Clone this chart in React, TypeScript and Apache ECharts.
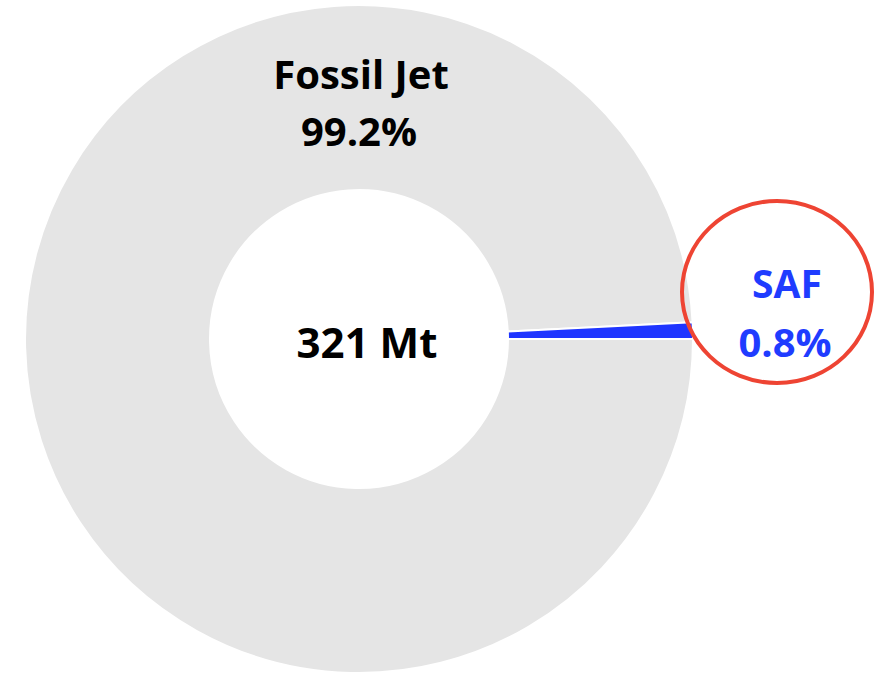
import React, { useEffect, useRef } from "react";
import * as echarts from "echarts";

const categories = ["Fossil Jet", "SAF"];
const shares = [99.2, 0.8];
const totalLabel = "321 Mt";
const colors = ["#e5e5e5", "#1f35ff"];

export default function App() {
  const ref = useRef<HTMLDivElement>(null);
  useEffect(() => {
    if (!ref.current) return;
    const chart = echarts.init(ref.current, null, { renderer: "svg" });
    const font = "'Open Sans', sans-serif";
    const txt = (x: number, y: number, text: string, size: number, fill: string) => ({
      type: "text",
      x,
      y,
      z: 100,
      style: {
        text,
        fill,
        font: `bold ${size}px ${font}`,
        align: "center",
        verticalAlign: "middle",
      },
    });
    chart.setOption({
      animation: false,
      backgroundColor: "#ffffff",
      series: [
        {
          type: "pie",
          center: [359, 339],
          radius: [149, 334],
          startAngle: 0,
          clockwise: true,
          silent: true,
          label: { show: false },
          labelLine: { show: false },
          itemStyle: { borderColor: "#ffffff", borderWidth: 2 },
          data: categories.map((c, i) => ({
            name: c,
            value: shares[i],
            itemStyle: { color: colors[i] },
          })),
        },
      ],
      graphic: [
        txt(361, 73, categories[0], 40, "#000000"),
        txt(359, 130, `${shares[0].toFixed(1)}%`, 40, "#000000"),
        txt(367, 341, totalLabel, 42, "#000000"),
        {
          type: "ellipse",
          z: 100,
          shape: { cx: 777, cy: 292, rx: 95, ry: 91 },
          style: { fill: "none", stroke: "#ee4433", lineWidth: 4 },
        },
        txt(787, 282, categories[1], 39, "#1f3cff"),
        txt(785, 341, `${shares[1].toFixed(1)}%`, 40, "#1f3cff"),
      ],
    });
    return () => chart.dispose();
  }, []);
  return (
    <div
      ref={ref}
      style={{ position: "fixed", left: 0, top: 0, width: 877, height: 673 }}
    />
  );
}
